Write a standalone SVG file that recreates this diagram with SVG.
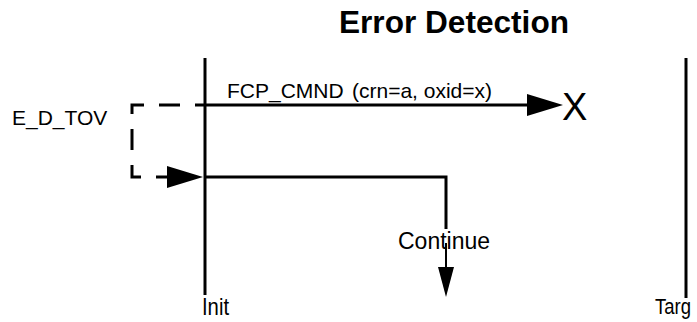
<svg xmlns="http://www.w3.org/2000/svg" width="697" height="322" viewBox="0 0 697 322">
<style>
.t{font-family:"Liberation Sans",Arial,sans-serif;fill:#000}
.title{font-weight:bold;font-size:31px}
.lbl{font-size:21px}
.end{font-size:24px}
.endr{font-size:22px}
.big{font-size:38px}
.cont{font-size:23px}
.life{stroke:#000;stroke-width:3;fill:none}
.msg{stroke:#000;stroke-width:3;fill:none}
.dash{stroke:#000;stroke-width:3;fill:none;stroke-dasharray:21 15;stroke-dashoffset:11}
.thin{stroke:#000;stroke-width:2;fill:none}
</style>
<defs>
<marker id="ah" markerUnits="userSpaceOnUse" markerWidth="36" markerHeight="22" viewBox="0 0 36 22" refX="0" refY="11" orient="auto">
<path d="M0,0 L36,11 L0,22 z" fill="#000"/>
</marker>
<marker id="ahs" markerUnits="userSpaceOnUse" markerWidth="30" markerHeight="16" viewBox="0 0 30 16" refX="0" refY="8" orient="auto">
<path d="M0,0 L30,8 L0,16 z" fill="#000"/>
</marker>
</defs>
<rect width="697" height="322" fill="#fff"/>
<text class="t title" x="339" y="33" textLength="230" lengthAdjust="spacingAndGlyphs">Error Detection</text>
<g id="init">
<line class="life" x1="205" y1="58" x2="205" y2="295"/>
<text class="t end" x="202" y="315" textLength="27" lengthAdjust="spacingAndGlyphs">Init</text>
</g>
<g id="target">
<line class="life" x1="686" y1="58" x2="686" y2="298"/>
<text class="t endr" x="655" y="314" textLength="36" lengthAdjust="spacingAndGlyphs">Targ</text>
</g>
<g id="timer">
<text class="t lbl" x="12" y="125">E_D_TOV</text>
</g>
<g id="lost">
<text class="t big" x="562" y="120">X</text>
</g>
<g id="connectors">
<line class="msg" x1="205" y1="105" x2="527" y2="105" marker-end="url(#ah)"/>
<text class="t lbl" x="227" y="98">FCP_CMND</text>
<text class="t lbl" x="352" y="98">(crn=a, oxid=x)</text>
<path class="dash" d="M205,105 H132 V177 H167" marker-end="url(#ah)"/>
<path class="msg" d="M205,177 H446 V229"/>
<text class="t cont" x="398" y="249">Continue</text>
<line class="thin" x1="446" y1="243" x2="446" y2="267" marker-end="url(#ahs)"/>
</g>
</svg>
